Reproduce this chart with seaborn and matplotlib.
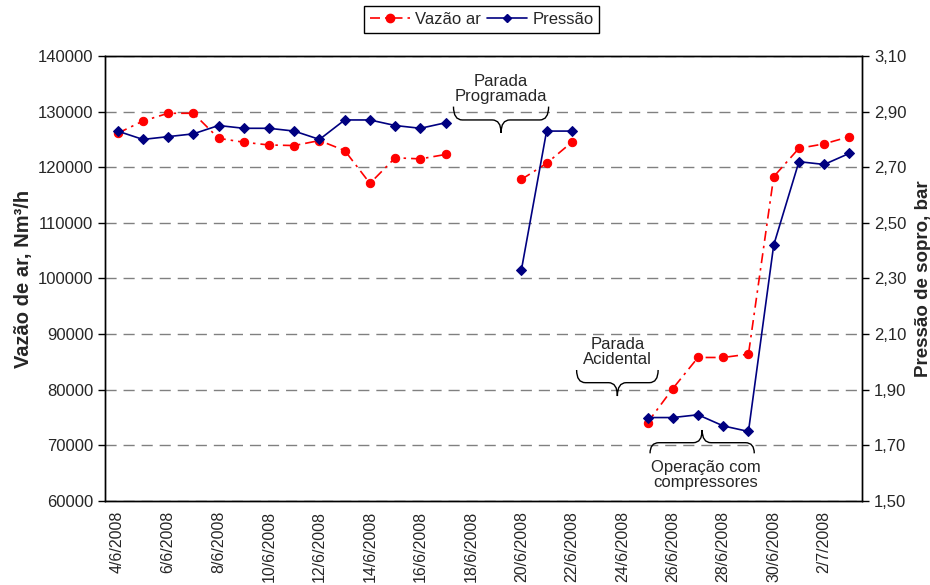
import numpy as np
import pandas as pd
import seaborn as sns
import matplotlib.pyplot as plt
from matplotlib.lines import Line2D
from matplotlib.patches import PathPatch
from matplotlib.path import Path
from matplotlib.ticker import FuncFormatter

nan = np.nan

# categorias (um dia por ponto)
datas = ['4/6/2008', '5/6/2008', '6/6/2008', '7/6/2008', '8/6/2008', '9/6/2008',
         '10/6/2008', '11/6/2008', '12/6/2008', '13/6/2008', '14/6/2008', '15/6/2008',
         '16/6/2008', '17/6/2008', '18/6/2008', '19/6/2008', '20/6/2008', '21/6/2008',
         '22/6/2008', '23/6/2008', '24/6/2008', '25/6/2008', '26/6/2008', '27/6/2008',
         '28/6/2008', '29/6/2008', '30/6/2008', '1/7/2008', '2/7/2008', '3/7/2008']

vazao_ar = [126100, 128300, 129700, 129700, 125200, 124500, 124000, 123900, 124800, 123000,
            117100, 121700, 121500, 122300, nan, nan, 117800, 120700, 124500, nan,
            nan, 74100, 80200, 85800, 85800, 86400, 118300, 123400, 124200, 125500]

pressao = [2.83, 2.80, 2.81, 2.82, 2.85, 2.84, 2.84, 2.83, 2.80, 2.87,
           2.87, 2.85, 2.84, 2.86, nan, nan, 2.33, 2.83, 2.83, nan,
           nan, 1.80, 1.80, 1.81, 1.77, 1.75, 2.42, 2.72, 2.71, 2.75]

ticks_vazao = [60000, 70000, 80000, 90000, 100000, 110000, 120000, 130000, 140000]
ticks_pressao = [1.50, 1.70, 1.90, 2.10, 2.30, 2.50, 2.70, 2.90, 3.10]


def tabela(valores):
    df = pd.DataFrame({'dia': range(len(valores)), 'valor': valores})
    # cada lacuna abre um novo trecho, para a linha nao ligar por cima dela
    df['trecho'] = df['valor'].isna().cumsum()
    return df.dropna()


def chave(ax, x0, x1, y_ponta, y_meio, y_bico, r=0.35):
    xm = (x0 + x1) / 2
    verts = [(x0, y_ponta), (x0, y_meio), (x0 + r, y_meio),
             (xm - r, y_meio),
             (xm, y_meio), (xm, y_bico),
             (xm, y_meio), (xm + r, y_meio),
             (x1 - r, y_meio),
             (x1, y_meio), (x1, y_ponta)]
    codes = [Path.MOVETO, Path.CURVE3, Path.CURVE3, Path.LINETO, Path.CURVE3, Path.CURVE3,
             Path.CURVE3, Path.CURVE3, Path.LINETO, Path.CURVE3, Path.CURVE3]
    ax.add_patch(PathPatch(Path(verts, codes), fill=False, lw=1, ec='black'))


sns.set_style('white')
plt.rcParams['font.family'] = ['Liberation Sans', 'DejaVu Sans']
plt.rcParams['font.size'] = 12

fig = plt.figure(figsize=(9.3, 5.85), dpi=100)
ax = fig.add_axes([0.1129, 0.1436, 0.8140, 0.7607])
ax2 = ax.twinx()

vermelho = '#FF0000'
azul = '#000080'
traco_ponto = (0, (6, 3, 1.5, 3))

sns.lineplot(data=tabela(vazao_ar), x='dia', y='valor', units='trecho', estimator=None,
             color=vermelho, marker='o', markersize=6, markeredgecolor=vermelho,
             linestyle=traco_ponto, linewidth=1.2, ax=ax, legend=False)
sns.lineplot(data=tabela(pressao), x='dia', y='valor', units='trecho', estimator=None,
             color=azul, marker='D', markersize=5, markeredgecolor=azul,
             linewidth=1.2, ax=ax2, legend=False)

n = len(datas)
ax.set_xlim(-0.5, n - 0.5)
ax.set_ylim(ticks_vazao[0], ticks_vazao[-1])
ax2.set_ylim(ticks_pressao[0], ticks_pressao[-1])

# eixo x: marcas entre os dias, rotulos a cada dois dias
ax.set_xticks([i - 0.5 for i in range(n + 1)])
ax.set_xticklabels([])
ax.set_xticks(list(range(0, n, 2)), minor=True)
ax.set_xticklabels(datas[::2], minor=True, rotation=90, fontsize=11.5)
ax.tick_params(axis='x', which='major', direction='inout', length=9, width=1, color='black')
ax.tick_params(axis='x', which='minor', length=0, pad=7)

ax.set_yticks(ticks_vazao)
ax.tick_params(axis='y', direction='out', length=5, width=1, color='black', labelsize=12)
ax2.set_yticks(ticks_pressao)
ax2.yaxis.set_major_formatter(FuncFormatter(lambda v, p: f'{v:.2f}'.replace('.', ',')))
ax2.tick_params(axis='y', direction='out', length=5, width=1, color='black', labelsize=12)

ax.yaxis.grid(True, linestyle=(0, (8, 5)), color='#808080', linewidth=1)
ax.xaxis.grid(False)
ax.set_axisbelow(True)

for a in (ax, ax2):
    for s in a.spines.values():
        s.set_color('black')
        s.set_linewidth(1)

ax.set_xlabel('')
ax.set_ylabel('Vazão de ar, Nm³/h', fontweight='bold', fontsize=14.5, labelpad=3)
ax2.set_ylabel('Pressão de sopro, bar', fontweight='bold', fontsize=13.5, labelpad=6)

# anotacoes
ax.text(15.17, 134000, 'Parada\nProgramada', ha='center', va='center', fontsize=12, linespacing=1.0)
chave(ax, 13.31, 17.08, 130900, 128500, 126200)
ax.text(19.82, 86700, 'Parada\nAcidental', ha='center', va='center', fontsize=12, linespacing=1.0)
chave(ax, 18.19, 21.42, 83550, 81270, 78870)
ax.text(23.31, 64600, 'Operação com\ncompressores', ha='center', va='center', fontsize=12, linespacing=1.0)
chave(ax, 21.1, 25.23, 68570, 70480, 72760)

alcas = [Line2D([], [], color=vermelho, linestyle=traco_ponto, linewidth=1.2, marker='o',
                markersize=6, label='Vazão ar'),
         Line2D([], [], color=azul, linewidth=1.2, marker='D', markersize=4, label='Pressão')]
leg = fig.legend(handles=alcas, loc='upper center', bbox_to_anchor=(0.518, 0.99), ncol=2,
                 frameon=True, fancybox=False, edgecolor='black', framealpha=1, fontsize=12,
                 handlelength=2.4, handletextpad=0.3, columnspacing=0.4, borderpad=0.35,
                 borderaxespad=0)
leg.get_frame().set_linewidth(1)

fig.savefig('out.png', dpi=100)
